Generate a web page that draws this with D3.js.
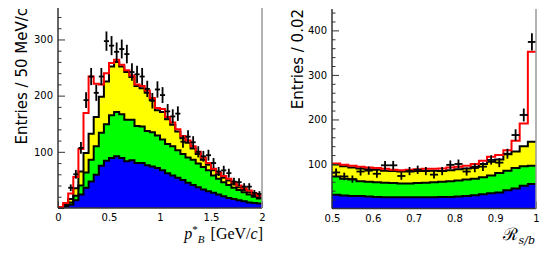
<html>
<script src="https://d3js.org/d3.v7.min.js"></script>
<body style="margin:0;background:#fff">
<svg id="chart" width="548" height="262"></svg>
<script>
// left panel: p*_B, 40 bins of 50 MeV/c from 0 to 2 (stack tops)
const leftBlue   = [0,3,6,14,24,36,47,59,75,84,89,92,89,83,85,80,80,76,74,71,67,62,58,54,50,45,41,37,33,30,27,24,21,18,16,14,12,10,9,8];
const leftGreen  = [0,3,10,22,40,63,86,110,134,149,165,171,167,157,157,146,145,137,135,129,122,114,110,103,96,90,86,79,73,67,58,52,46,41,36,32,28,24,20,17];
const leftYellow = [1,6,16,35,65,98,132,162,198,225,252,260,252,242,233,217,213,205,192,174,171,158,148,136,124,116,106,96,86,77,67,60,54,49,43,37,32,28,23,19];
const leftTotal  = [2,9,26,55,105,169,234,221,220,240,258,264,255,245,236,220,217,209,196,178,176,162,152,140,128,120,110,100,90,80,70,63,57,52,46,40,35,31,26,22];
const leftData   = [null,null,36,60,107,192,234,205,234,297,289,278,283,274,242,238,234,212,191,211,201,172,163,168,118,127,117,100,92,94,80,65,67,62,47,46,38,38,27,25];

// right panel: R_s/b, 25 bins of 0.02 from 0.5 to 1
const rightBlue   = [31,29,28,28,27,26,25,25,25,25,25,25,25,26,26,27,28,30,32,34,36,41,45,51,55];
const rightGreen  = [72,67,65,61,60,59,58,57,56,56,57,58,59,60,61,63,65,67,70,74,80,85,91,95,96];
const rightYellow = [99,95,92,90,88,87,85,84,83,83,84,85,85,84,86,88,90,94,100,105,110,122,128,140,150];
const rightTotal  = [101,98,96,94,92,91,89,87,86,87,88,89,89,90,92,94,96,100,107,116,120,131,152,191,352];
const rightData   = [81,72,66,83,85,78,97,97,73,84,87,84,76,84,98,100,83,91,94,109,103,123,165,210,374];

const leftXTicks = [0, 0.5, 1, 1.5, 2];
const leftXMinor = [0.1,0.2,0.3,0.4,0.6,0.7,0.8,0.9,1.1,1.2,1.3,1.4,1.6,1.7,1.8,1.9];
const leftYTicks = [100, 200, 300];
const leftYMinor = [20,40,60,80,120,140,160,180,220,240,260,280,320,340];
const rightXTicks = [0.5, 0.6, 0.7, 0.8, 0.9, 1];
const rightXMinor = [0.52,0.54,0.56,0.58,0.62,0.64,0.66,0.68,0.72,0.74,0.76,0.78,0.82,0.84,0.86,0.88,0.92,0.94,0.96,0.98];
const rightYTicks = [100, 200, 300, 400];
const rightYMinor = [20,40,60,80,120,140,160,180,220,240,260,280,320,340,360,380,420,440];

const svg = d3.select("#chart");

function drawPanel(p) {
  const x = d3.scaleLinear().domain(p.xDomain).range(p.xRange);
  const y = d3.scaleLinear().domain(p.yDomain).range(p.yRange);
  const n = p.total.length;
  const w = (p.xDomain[1] - p.xDomain[0]) / n;
  const lo = i => p.xDomain[0] + i * w;
  const g = svg.append("g");

  // x ticks (under the histograms)
  g.append("g").attr("transform", "translate(0," + p.yRange[0] + ")")
    .call(d3.axisBottom(x).tickValues(p.xMinor).tickSize(-3.5).tickSizeOuter(0).tickFormat(""))
    .call(a => a.select(".domain").remove());
  g.append("g").attr("transform", "translate(0," + p.yRange[0] + ")")
    .call(d3.axisBottom(x).tickValues(p.xTicks).tickSize(-7).tickSizeOuter(0).tickPadding(6)
      .tickFormat(d3.format("~g")))
    .call(a => a.select(".domain").remove())
    .call(a => a.selectAll("text").attr("font-family", "DejaVu Sans").attr("font-size", 10).attr("fill", "#000"))
    .call(a => a.selectAll("line").attr("stroke", "#333"));

  const pts = vals => vals.map((v, i) => [lo(i), v]).concat([[lo(n), vals[n - 1]]]);
  const area = d3.area().curve(d3.curveStepAfter).x(d => x(d[0])).y0(y(0)).y1(d => y(d[1]));
  const line = d3.line().curve(d3.curveStepAfter).x(d => x(d[0])).y(d => y(d[1]));

  [[p.yellow, "#ffff00"], [p.green, "#00ff00"], [p.blue, "#0000ff"]].forEach(([vals, c]) => {
    g.append("path").attr("d", area(pts(vals))).attr("fill", c);
  });
  [p.yellow, p.green, p.blue].forEach(vals => {
    g.append("path").attr("d", line(pts(vals))).attr("fill", "none").attr("stroke", "#000").attr("stroke-width", 2);
  });
  g.append("path").attr("d", line(pts(p.total))).attr("fill", "none").attr("stroke", "#ff0000").attr("stroke-width", 2);

  // data points with error bars
  const dg = g.append("g").attr("stroke", "#000").attr("stroke-width", 1.8);
  p.data.forEach((v, i) => {
    if (v == null) return;
    const e = Math.sqrt(v);
    const cx = x(lo(i) + w / 2);
    dg.append("line").attr("x1", x(lo(i))).attr("x2", x(lo(i + 1))).attr("y1", y(v)).attr("y2", y(v));
    dg.append("line").attr("x1", cx).attr("x2", cx).attr("y1", y(v - e)).attr("y2", y(v + e));
  });

  // y axis with inside ticks
  g.append("g").attr("transform", "translate(" + p.xRange[0] + ",0)")
    .call(d3.axisLeft(y).tickValues(p.yMinor).tickSize(-3.5).tickSizeOuter(0).tickFormat(""))
    .call(a => a.select(".domain").remove())
    .call(a => a.selectAll("line").attr("stroke", "#333"));
  g.append("g").attr("transform", "translate(" + p.xRange[0] + ",0)")
    .call(d3.axisLeft(y).tickValues(p.yTicks).tickSize(-7).tickSizeOuter(0).tickPadding(5))
    .call(a => a.select(".domain").remove())
    .call(a => a.selectAll("text").attr("font-family", "DejaVu Sans").attr("font-size", 10).attr("fill", "#000"))
    .call(a => a.selectAll("line").attr("stroke", "#333"));

  // frame
  g.append("line").attr("x1", p.xRange[0]).attr("x2", p.xRange[0]).attr("y1", p.yRange[1]).attr("y2", p.yRange[0])
    .attr("stroke", "#333").attr("stroke-width", 1.5);
  g.append("line").attr("x1", p.xRange[0]).attr("x2", p.xRange[1]).attr("y1", p.yRange[0]).attr("y2", p.yRange[0])
    .attr("stroke", "#333").attr("stroke-width", 1.5);
  g.append("line").attr("x1", p.xRange[1]).attr("x2", p.xRange[1]).attr("y1", p.yRange[1]).attr("y2", p.yRange[0])
    .attr("stroke", "#999").attr("stroke-width", 1.5);

  // y title
  g.append("text").attr("transform", "translate(" + p.yTitleX + "," + p.yRange[1] + ") rotate(-90)")
    .attr("text-anchor", "end").attr("dy", "0.36em")
    .attr("font-family", "DejaVu Sans").attr("font-size", 15).text(p.yTitle);
  return g;
}

const gl = drawPanel({
  xDomain: [0, 2], xRange: [58, 262], yDomain: [0, 356], yRange: [208, 8],
  xTicks: leftXTicks, xMinor: leftXMinor, yTicks: leftYTicks, yMinor: leftYMinor,
  blue: leftBlue, green: leftGreen, yellow: leftYellow, total: leftTotal, data: leftData,
  yTitle: "Entries / 50 MeV/c", yTitleX: 22
});
const gr = drawPanel({
  xDomain: [0.5, 1], xRange: [332, 536], yDomain: [0, 448], yRange: [208.5, 9],
  xTicks: rightXTicks, xMinor: rightXMinor, yTicks: rightYTicks, yMinor: rightYMinor,
  blue: rightBlue, green: rightGreen, yellow: rightYellow, total: rightTotal, data: rightData,
  yTitle: "Entries / 0.02", yTitleX: 298
});

// x titles
const tl = gl.append("text").attr("x", 263).attr("y", 239).attr("text-anchor", "end")
  .attr("font-family", "Liberation Serif").attr("font-size", 16);
tl.append("tspan").attr("font-style", "italic").text("p");
tl.append("tspan").attr("font-size", 11).attr("dy", -6).text("*");
tl.append("tspan").attr("font-size", 11).attr("font-style", "italic").attr("dx", 0).attr("dy", 10).text("B");
tl.append("tspan").attr("dy", -4).attr("dx", 6).text("[GeV/");
tl.append("tspan").attr("font-style", "italic").text("c");
tl.append("tspan").text("]");

const tr = gr.append("text").attr("x", 535).attr("y", 240).attr("text-anchor", "end")
  .attr("font-family", "DejaVu Serif").attr("font-size", 17);
tr.append("tspan").text("ℛ");
tr.append("tspan").attr("font-size", 11).attr("font-style", "italic").attr("dy", 4).attr("dx", 1).text("s/b");
</script>
</body>
</html>
